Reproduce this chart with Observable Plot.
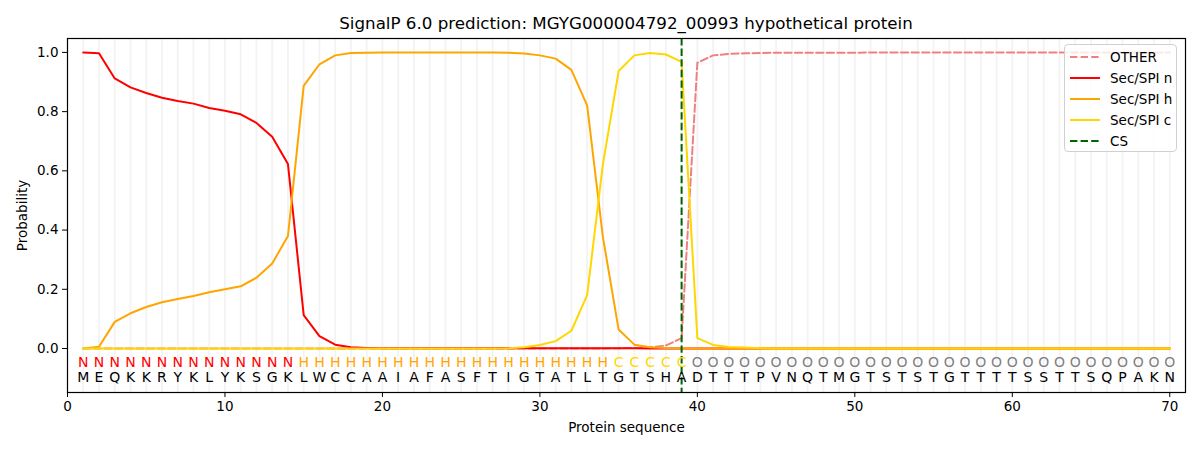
<!DOCTYPE html>
<html>
<head>
<meta charset="utf-8">
<script src="https://cdn.jsdelivr.net/npm/d3@7"></script>
<script src="https://cdn.jsdelivr.net/npm/@observablehq/plot@0.6"></script>
<style>
  body { margin: 0; background: #fff; font-family: "DejaVu Sans", sans-serif; }
  #wrap { position: relative; width: 1200px; height: 450px; }
  #title { height: 38px; line-height: 46px; font-size: 16.7px; text-align: center; padding-left: 52px; box-sizing: border-box; color: #000; }
  #legend { position: absolute; left: 1064px; top: 44px; width: 113px; height: 108px; border: 1px solid #d0d0d0; border-radius: 4px; background: rgba(255,255,255,0.8); box-sizing: border-box; font-size: 13.5px; }
  .li { position: absolute; left: 5px; height: 20px; display: flex; align-items: center; }
  .li svg { margin-right: 10px; }
</style>
</head>
<body>
<div id="wrap">
  <div id="title">SignalP 6.0 prediction: MGYG000004792_00993 hypothetical protein</div>
  <div id="chart"></div>
  <div id="legend"></div>
</div>
<script>
const sequence = "MEQKKRYKLYKSGKLWCCAAIAFASFTIGTATLTGTSHADTTTPVNQTMGTSTSTGTTTTSSTTSQPAKN".split("");
const regionLabels = [].concat(Array(14).fill("N"), Array(20).fill("H"), Array(5).fill("C"), Array(31).fill("O"));
const otherVals = [
  0,0,0,0,0,0,0,0,0,0, 0,0,0,0,0,0,0,0,0,0, 0,0,0,0,0,0,0,0,0,0, 0,0,0,0,0.001,0.002,0.004,0.01,0.035,0.965,
  0.99,0.995,0.997,0.998,0.999,0.999,0.999,0.999,0.999,0.999, 1,1,1,1,1,1,1,1,1,1, 1,1,1,1,1,1,1,1,1,1
];
const secN = [
  1.0,0.997,0.912,0.882,0.863,0.847,0.836,0.827,0.812,0.803, 0.791,0.762,0.715,0.623,0.113,0.042,0.013,0.004,0.002,0.001,
  0.001,0.001,0.001,0.001,0.001,0.001,0.001,0.001,0.001,0.001, 0.001,0.001,0.001,0.001,0.001,0.001,0,0,0,0,
  0,0,0,0,0,0,0,0,0,0, 0,0,0,0,0,0,0,0,0,0, 0,0,0,0,0,0,0,0,0,0
];
const secH = [
  0.0,0.006,0.09,0.119,0.14,0.156,0.167,0.177,0.19,0.2, 0.21,0.239,0.287,0.38,0.887,0.96,0.99,0.998,0.999,1.0,
  1.0,1.0,1.0,1.0,1.0,1.0,1.0,0.999,0.996,0.99, 0.979,0.941,0.821,0.377,0.064,0.013,0.004,0.002,0.001,0,
  0,0,0,0,0,0,0,0,0,0, 0,0,0,0,0,0,0,0,0,0, 0,0,0,0,0,0,0,0,0,0
];
const secC = [
  0,0,0,0,0,0,0,0,0,0, 0,0,0,0,0,0,0,0,0,0, 0,0,0,0,0,0,0,0.001,0.004,0.012,
  0.025,0.06,0.18,0.622,0.937,0.99,0.998,0.993,0.968,0.035, 0.012,0.005,0.003,0.001,0,0,0,0,0,0,
  0,0,0,0,0,0,0,0,0,0, 0,0,0,0,0,0,0,0,0,0
];
const csPosition = 39;
const xTicks = [0, 10, 20, 30, 40, 50, 60, 70];
const yTicks = [0, 0.2, 0.4, 0.6, 0.8, 1.0];

const positions = sequence.map((_, i) => i + 1);
const series = [
  {name: "OTHER", vals: otherVals, color: "#f08080", dash: "7.4,3.2"},
  {name: "Sec/SPI n", vals: secN, color: "#ff0000", dash: null},
  {name: "Sec/SPI h", vals: secH, color: "#ffa500", dash: null},
  {name: "Sec/SPI c", vals: secC, color: "#ffd700", dash: null}
];
const labelColor = {N: "#ff0000", H: "#ffa500", C: "#ffd700", O: "#808080"};
const residues = positions.map((p, i) => ({pos: p, aa: sequence[i], lab: regionLabels[i]}));

const marks = [
  Plot.ruleX(positions, {x: d => d, stroke: "#f3f3f3", strokeWidth: 1.8}),
];
for (const s of series) {
  marks.push(Plot.line(positions, {x: d => d, y: (d, i) => s.vals[i], stroke: s.color, strokeWidth: 2, strokeDasharray: s.dash}));
}
marks.push(
  Plot.ruleX([csPosition], {x: d => d, stroke: "#006400", strokeWidth: 2, strokeDasharray: "7.4,3.2"}),
  Plot.text(residues, {x: "pos", y: -0.047, text: "lab", fill: d => labelColor[d.lab], fontSize: 14}),
  Plot.text(residues, {x: "pos", y: -0.098, text: "aa", fill: "#000", fontSize: 14}),
  Plot.frame({stroke: "#000", strokeWidth: 1.2}),
  Plot.axisX({ticks: xTicks, tickSize: 5, tickPadding: 4, tickFormat: d3.format("d"), fontSize: 13.5, label: "Protein sequence", labelAnchor: "center", labelOffset: 39, labelArrow: "none"}),
  Plot.axisY({ticks: yTicks, tickSize: 5, tickPadding: 4, tickFormat: d3.format(".1f"), fontSize: 13.5, label: "Probability", labelAnchor: "center", labelOffset: 50, labelArrow: "none"})
);

const chart = Plot.plot({
  width: 1200,
  height: 412,
  marginLeft: 67,
  marginRight: 15,
  marginTop: 0,
  marginBottom: 58,
  x: {domain: [0, 71]},
  y: {domain: [-0.1486, 1.047]},
  style: {fontFamily: "DejaVu Sans, sans-serif", fontSize: "13.5px", color: "#000", background: "#fff", overflow: "visible"},
  marks
});
document.getElementById("chart").appendChild(chart);

const legend = document.getElementById("legend");
const legendItems = [
  {name: "OTHER", color: "#f08080", dash: "7.4,3.2"},
  {name: "Sec/SPI n", color: "#ff0000", dash: null},
  {name: "Sec/SPI h", color: "#ffa500", dash: null},
  {name: "Sec/SPI c", color: "#ffd700", dash: null},
  {name: "CS", color: "#006400", dash: "7.4,3.2"}
];
legendItems.forEach((it, i) => {
  const div = document.createElement("div");
  div.className = "li";
  div.style.top = (2 + i * 21) + "px";
  div.innerHTML = `<svg width="30" height="4"><line x1="0" y1="2" x2="30" y2="2" stroke="${it.color}" stroke-width="2" ${it.dash ? `stroke-dasharray="${it.dash}"` : ""}/></svg><span>${it.name}</span>`;
  legend.appendChild(div);
});
</script>
</body>
</html>
